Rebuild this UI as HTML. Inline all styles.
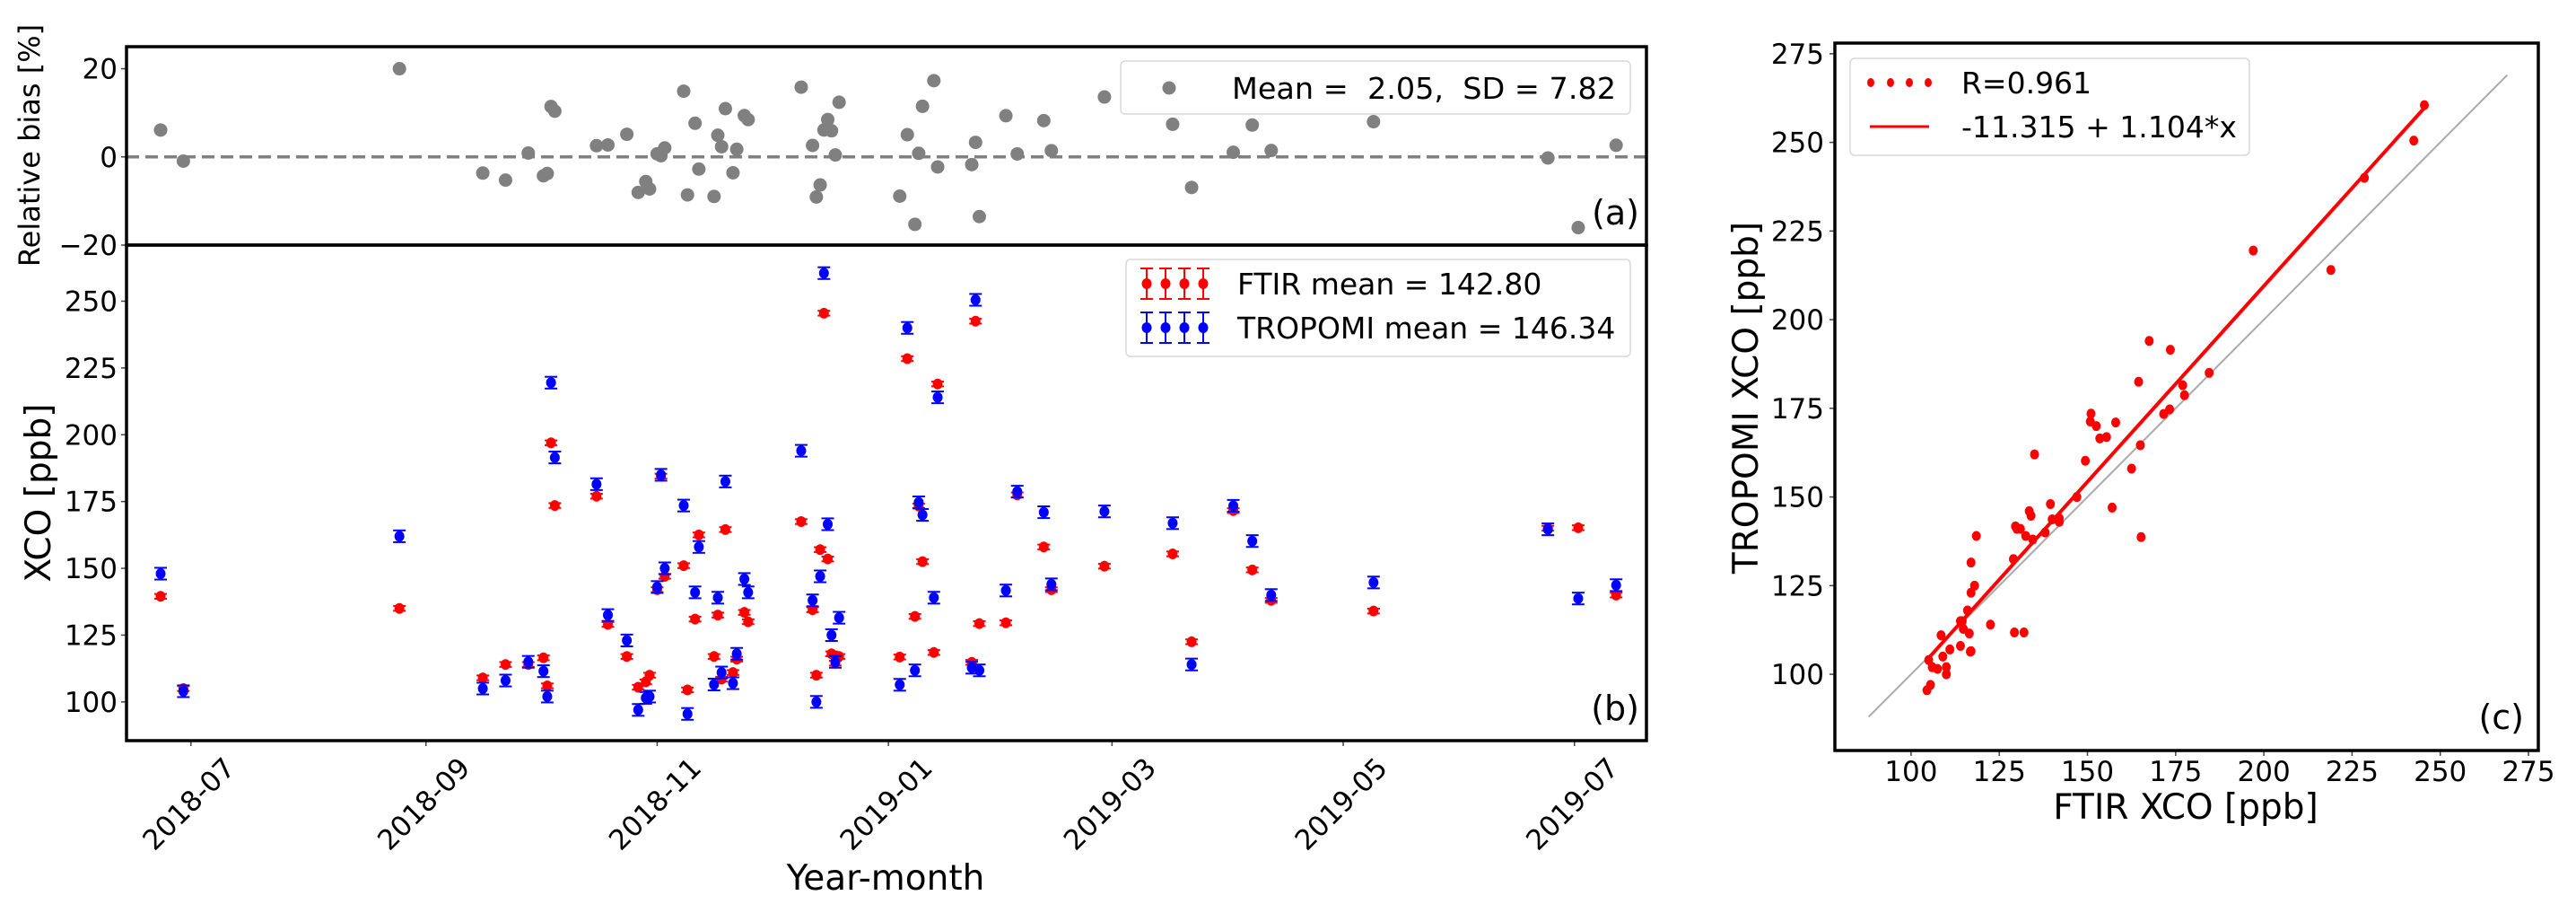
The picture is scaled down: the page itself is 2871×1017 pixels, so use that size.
<!DOCTYPE html>
<html><head><meta charset="utf-8"><style>
html,body{margin:0;padding:0;background:#fff;}
svg{display:block;font-family:"DejaVu Sans","Liberation Sans",sans-serif;}
</style></head><body>
<svg id="fig" width="2871" height="1017" viewBox="0 0 2871 1017" xmlns="http://www.w3.org/2000/svg">
<rect x="0" y="0" width="2871" height="1017" fill="#fff"/>
<g id="gA"></g>
<g id="gB"></g>
<g id="gC"></g>
</svg>
<script>
// Observation days since 2018-07-01
const obsDays = [-8,-2,55,77,83,89,93,94,95,96,107,110,115,118,120,121,123,124,125,130,131,133,134,138,139,140,141,143,144,146,147,161,164,165,166,167,168,169,170,171,187,189,191,192,193,196,197,206,207,208,215,218,225,227,241,259,264,275,280,285,312,358,366,376];
const ftirXco = [139.5,105,135,109,114,114,116.5,106,197,173.5,177,129,117,105.5,107.5,110,142,184.5,147,151,104.5,131,162.5,117,132.5,108.5,164.5,111,116,133.5,130,167.5,134.5,110,157,245.5,153.5,118,114.5,117,116.8,228.5,132,173.3,152.5,118.5,219,114.8,242.5,129.3,129.6,177.5,158,142,150.8,155.4,122.5,171.6,149.4,138,134,165,165.2,140];
const tropXco = [148,104,162,105,108,115,111.5,102,219.5,191.5,181.5,132.5,123,97,101.5,102,143,185,150,173.5,95.5,141,158,106.5,139,111,182.5,107,118,146,141,194,138,100,147,260.5,166.5,125,115,131.5,106.4,240,111.8,174.7,170,139,214,112.8,250.5,111.8,141.7,178.7,171,144,171.3,166.9,114,173.4,160.2,140,144.7,164.6,138.7,143.7];
const ftirErr = 0.9;
const tropErr = 2.2;
const xTickDays = [0,62,123,184,243,304,365];
const xTickLabels = ["2018-07","2018-09","2018-11","2019-01","2019-03","2019-05","2019-07"];
const biasTicks = [-20,0,20];
const xcoTicks = [100,125,150,175,200,225,250];
const scTicks = [100,125,150,175,200,225,250,275];
const fitCoef = [-11.315, 1.104];
const identityRange = [88, 269];

const NS="http://www.w3.org/2000/svg";
function mk(parent, tag, attrs, text){
  const e=document.createElementNS(NS,tag);
  for(const k in attrs) e.setAttribute(k,attrs[k]);
  if(text!==undefined) e.textContent=text;
  parent.appendChild(e); return e;
}
const gA=document.getElementById('gA'), gB=document.getElementById('gB'), gC=document.getElementById('gC');

const L=141, R=1835, aT=52, aB=273, bT=273, bB=825;
const xD = d => L + (d+17)*(R-L)/401;
const yA = v => aT + (25-v)*(aB-aT)/45;
const yB = v => bT + (271-v)*(bB-bT)/(271-85.5);
const cL=2045, cR=2829, cT=48, cB=836;
const xC = v => cL + (v-78.4)*(cR-cL)/(277.8-78.4);
const yC = v => cT + (278-v)*(cB-cT)/(278-78.5);

const bias = obsDays.map((d,i)=> (tropXco[i]-ftirXco[i])/ftirXco[i]*100);

// ---------- Panel A ----------
let e;
e=mk(gA,'line',{x1:L,x2:R,y1:yA(0),y2:yA(0),stroke:'#808080','stroke-width':3.5,'stroke-dasharray':'14,7'});


bias.forEach((b,i)=>{
  const c=mk(gA,'circle',{cx:xD(obsDays[i]),cy:yA(b),r:7.5,fill:'#808080'});
  
  
});
biasTicks.forEach(t=>{
  const y=yA(t);
  const tk=mk(gA,'line',{x1:L-6,x2:L,y1:y,y2:y,stroke:'#444','stroke-width':1.5});
  
  
  const tl=mk(gA,'text',{x:L-10,y:y+11,'text-anchor':'end','font-size':31},t<0?'\u2212'+(-t):String(t));
  
  
});
e=mk(gA,'rect',{x:L,y:aT,width:R-L,height:aB-aT,fill:'none',stroke:'#000','stroke-width':3.5});


e=mk(gA,'text',{x:0,y:0,transform:'translate(44,162) rotate(-90)','text-anchor':'middle','font-size':32},'Relative bias [%]');


e=mk(gA,'rect',{x:1249,y:68,width:568,height:59,rx:5,fill:'#fff','fill-opacity':0.85,stroke:'#d8d8d8','stroke-width':1.5});


e=mk(gA,'circle',{cx:1303,cy:98,r:7.5,fill:'#808080'});


e=mk(gA,'text',{x:1373,y:110,'font-size':33,textLength:428,lengthAdjust:'spacingAndGlyphs'},'Mean =\u00a0 2.05,\u00a0 SD = 7.82');


e=mk(gA,'text',{x:1827,y:250,'text-anchor':'end','font-size':38},'(a)');



// ---------- Panel B ----------
function errPt(g,x,v,err,color,name){
  const y=yB(v), y1=yB(v+err), y2=yB(v-err);
  const gg=mk(g,'g',{});
  
  
  mk(gg,'line',{x1:x,x2:x,y1:y1,y2:y2,stroke:color,'stroke-width':2});
  mk(gg,'line',{x1:x-7,x2:x+7,y1:y1,y2:y1,stroke:color,'stroke-width':2});
  mk(gg,'line',{x1:x-7,x2:x+7,y1:y2,y2:y2,stroke:color,'stroke-width':2});
  mk(gg,'ellipse',{cx:x,cy:y,rx:5.5,ry:6,fill:color});
}
obsDays.forEach((d,i)=>{ errPt(gB,xD(d),ftirXco[i],ftirErr,'#ff0000','ftir-point'); });
obsDays.forEach((d,i)=>{ errPt(gB,xD(d),tropXco[i],tropErr,'#0000ff','tropomi-point'); });
xcoTicks.forEach(t=>{
  const y=yB(t);
  const tk=mk(gB,'line',{x1:L-6,x2:L,y1:y,y2:y,stroke:'#444','stroke-width':1.5});
  
  
  const tl=mk(gB,'text',{x:L-10,y:y+11,'text-anchor':'end','font-size':31},String(t));
  
  
});
xTickDays.forEach((d,i)=>{
  const x=xD(d);
  const tk=mk(gB,'line',{x1:x,x2:x,y1:bB,y2:bB+6,stroke:'#444','stroke-width':1.5});
  
  
  const tl=mk(gB,'text',{x:0,y:0,transform:`translate(${x-2},${896}) rotate(-45)`,'text-anchor':'middle','dominant-baseline':'central','font-size':31},xTickLabels[i]);
  
  
});
e=mk(gB,'rect',{x:L,y:bT,width:R-L,height:bB-bT,fill:'none',stroke:'#000','stroke-width':3.5});


e=mk(gB,'text',{x:0,y:0,transform:'translate(56,549) rotate(-90)','text-anchor':'middle','font-size':39},'XCO [ppb]');


e=mk(gB,'text',{x:987,y:991,'text-anchor':'middle','font-size':39},'Year-month');


e=mk(gB,'rect',{x:1255,y:289,width:562,height:108,rx:5,fill:'#fff','fill-opacity':0.85,stroke:'#d8d8d8','stroke-width':1.5});


[[316,'#ff0000','FTIR mean = 142.80','legend-ftir'],[365,'#0000ff','TROPOMI mean = 146.34','legend-tropomi']].forEach(r=>{
  const g=mk(gB,'g',{});
  
  
  [1278,1299,1320,1341].forEach(x=>{
    mk(g,'line',{x1:x,x2:x,y1:r[0]-17,y2:r[0]+17,stroke:r[1],'stroke-width':2});
    mk(g,'line',{x1:x-7,x2:x+7,y1:r[0]-17,y2:r[0]-17,stroke:r[1],'stroke-width':2});
    mk(g,'line',{x1:x-7,x2:x+7,y1:r[0]+17,y2:r[0]+17,stroke:r[1],'stroke-width':2});
    mk(g,'ellipse',{cx:x,cy:r[0],rx:5.5,ry:6,fill:r[1]});
  });
  mk(g,'text',{x:1379,y:r[0]+12,'font-size':33},r[2]);
});
e=mk(gB,'text',{x:1827,y:802,'text-anchor':'end','font-size':38},'(b)');



// ---------- Panel C ----------
e=mk(gC,'line',{x1:xC(identityRange[0]),y1:yC(identityRange[0]),x2:xC(identityRange[1]),y2:yC(identityRange[1]),stroke:'#aaaaaa','stroke-width':2});


const fMin=Math.min(...ftirXco), fMax=Math.max(...ftirXco);
e=mk(gC,'line',{x1:xC(fMin),y1:yC(fitCoef[0]+fitCoef[1]*fMin),x2:xC(fMax),y2:yC(fitCoef[0]+fitCoef[1]*fMax),stroke:'#ff0000','stroke-width':4});


ftirXco.forEach((f,i)=>{
  const c=mk(gC,'ellipse',{cx:xC(f),cy:yC(tropXco[i]),rx:5,ry:5.5,fill:'#ff0000'});
  
  
});
scTicks.forEach(t=>{
  const x=xC(t), y=yC(t);
  let tk=mk(gC,'line',{x1:cL-6,x2:cL,y1:y,y2:y,stroke:'#444','stroke-width':1.5});
  
  
  let tl=mk(gC,'text',{x:cL-12,y:y+11,'text-anchor':'end','font-size':31},String(t));
  
  
  tk=mk(gC,'line',{x1:x,x2:x,y1:cB,y2:cB+6,stroke:'#444','stroke-width':1.5});
  
  
  tl=mk(gC,'text',{x:x,y:870,'text-anchor':'middle','font-size':31},String(t));
  
  
});
e=mk(gC,'rect',{x:cL,y:cT,width:cR-cL,height:cB-cT,fill:'none',stroke:'#000','stroke-width':3.5});


e=mk(gC,'text',{x:0,y:0,transform:'translate(1959,443) rotate(-90)','text-anchor':'middle','font-size':39},'TROPOMI XCO [ppb]');


e=mk(gC,'text',{x:2436,y:912,'text-anchor':'middle','font-size':39},'FTIR XCO [ppb]');


e=mk(gC,'rect',{x:2062,y:65,width:445,height:108,rx:5,fill:'#fff','fill-opacity':0.85,stroke:'#d8d8d8','stroke-width':1.5});


[2085,2107,2128,2149].forEach(x=>{
  const d=mk(gC,'ellipse',{cx:x,cy:92,rx:4,ry:5,fill:'#ff0000'});
  
  
});
e=mk(gC,'text',{x:2186,y:104,'font-size':33},'R=0.961');


e=mk(gC,'line',{x1:2084,x2:2150,y1:141,y2:141,stroke:'#ff0000','stroke-width':3});


e=mk(gC,'text',{x:2186,y:153,'font-size':33,textLength:307,lengthAdjust:'spacingAndGlyphs'},'-11.315 + 1.104*x');


e=mk(gC,'text',{x:2813,y:812,'text-anchor':'end','font-size':38},'(c)');


</script>
</body></html>
